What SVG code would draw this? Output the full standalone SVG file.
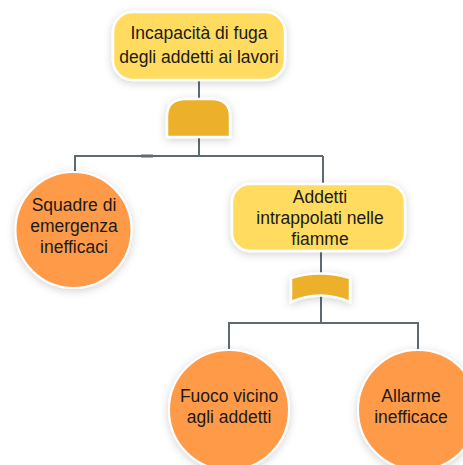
<svg xmlns="http://www.w3.org/2000/svg" width="463" height="465" viewBox="0 0 463 465">
  <defs>
    <filter id="soft" x="-30%" y="-30%" width="160%" height="160%">
      <feDropShadow dx="0" dy="2" stdDeviation="4" flood-color="#000" flood-opacity="0.18"/>
    </filter>
    <style>
      .wire { fill: none; stroke: #5d6b70; stroke-width: 2; }
      .event { fill: #ffdc5f; stroke: #fff; stroke-width: 2.5; filter: url(#soft); }
      .basic { fill: #ff9a4a; stroke: #fff; stroke-width: 2; filter: url(#soft); }
      .gate { fill: #ecb02c; stroke: #fff; stroke-width: 2.5; filter: url(#soft); }
      .lbl { font-family: "Liberation Sans", Arial, sans-serif; font-size: 17.5px; fill: #1a1a1a; text-anchor: middle; }
    </style>
  </defs>

  <rect width="463" height="465" fill="#fff"/>

  <!-- connectors -->
  <g id="connectors">
    <path class="wire" d="M199,80 V156 M75,156 H323 M75,155 V172 M323,156 V184"/>
    <rect x="141" y="154.5" width="12" height="3" fill="#5d6b70"/>
    <path class="wire" d="M321,251 V323 M229,323 H418 M229,322 V350 M418,322 V350"/>
  </g>

  <!-- top event -->
  <g id="top-event">
    <rect class="event" x="113" y="12" width="172" height="68" rx="20"/>
    <text class="lbl" x="199" y="39">Incapacità di fuga</text>
    <text class="lbl" x="199" y="63">degli addetti ai lavori</text>
  </g>

  <!-- AND gate -->
  <g id="gate-and">
    <path class="gate" d="M167,137 V116 Q167,99 186,99 H211 Q230,99 230,116 V137 Z"/>
  </g>

  <g id="squadre">
    <circle class="basic" cx="73.5" cy="230" r="58"/>
    <text class="lbl" x="74" y="211">Squadre di</text>
    <text class="lbl" x="74" y="232">emergenza</text>
    <text class="lbl" x="74" y="253">inefficaci</text>
  </g>

  <g id="intrappolati">
    <rect class="event" x="232" y="184" width="173" height="67" rx="18"/>
    <text class="lbl" x="320" y="203">Addetti</text>
    <text class="lbl" x="320" y="224">intrappolati nelle</text>
    <text class="lbl" x="320" y="245">fiamme</text>
  </g>

  <!-- OR gate -->
  <g id="gate-or">
    <path class="gate" d="M291,278 Q320,269 350,278 V302 Q320,289 291,302 Z"/>
  </g>

  <g id="fuoco">
    <circle class="basic" cx="229" cy="410" r="60"/>
    <text class="lbl" x="229" y="402">Fuoco vicino</text>
    <text class="lbl" x="229" y="423">agli addetti</text>
  </g>

  <g id="allarme">
    <circle class="basic" cx="418" cy="410" r="60"/>
    <text class="lbl" x="411" y="402">Allarme</text>
    <text class="lbl" x="411" y="423">inefficace</text>
  </g>
</svg>
